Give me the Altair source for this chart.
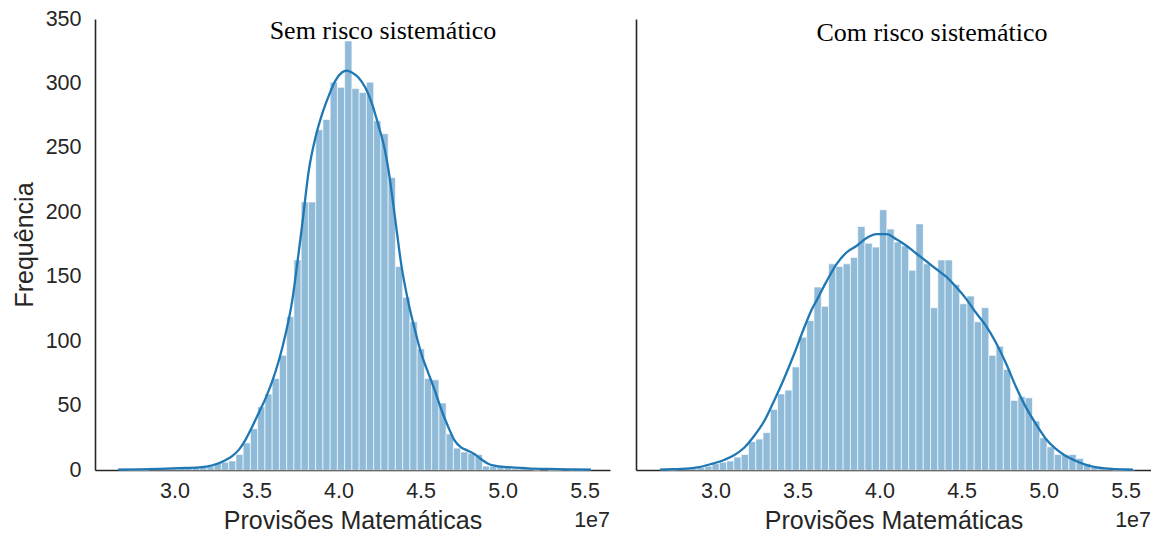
import altair as alt
import pandas as pd

# ---- data (x in units of 1e7) ----
x_ticks = [3.0, 3.5, 4.0, 4.5, 5.0, 5.5]
y_ticks = [0, 50, 100, 150, 200, 250, 300, 350]

panel_titles = ["Sem risco sistemático", "Com risco sistemático"]
x_title = "Provisões Matemáticas"
y_title = "Frequência"
offset_label = "1e7"

left_bin_start = 2.667
left_bin_width = 0.0442
left_counts = [1, 0, 0, 0, 1, 1, 1, 1, 2, 2, 2,
               2, 3, 5, 6, 7, 12, 21, 32, 49, 59, 71, 89, 119,
               163, 208, 208, 264, 272, 301, 297, 333, 296, 293, 301, 271, 261, 227,
               158, 134, 115, 94, 71, 70, 52, 28, 17, 14, 13, 12, 3, 3,
               3, 2, 1, 1, 1, 0, 1, 0, 0, 1, 0, 0, 1]

right_bin_start = 2.668
right_bin_width = 0.0444
right_counts = [1, 0, 1, 1, 1, 2, 3, 5, 6, 7,
                10, 12, 22, 24, 29, 47, 59, 62, 80, 103,
                116, 142, 127, 160, 158, 160, 165, 189, 176, 173,
                202, 187, 177, 174, 155, 191, 160, 126, 163, 163,
                144, 129, 135, 115, 126, 89, 96, 78, 54, 57,
                56, 38, 25, 18, 12, 12, 12, 9, 5, 2,
                1, 1, 0, 0, 1]

left_kde_x = [2.655, 2.788, 2.909, 3.030, 3.152, 3.232, 3.313, 3.353, 3.394, 3.435,
              3.475, 3.515, 3.556, 3.596, 3.636, 3.677, 3.717, 3.738, 3.778, 3.818,
              3.859, 3.899, 3.939, 3.980, 4.020, 4.050, 4.081, 4.121, 4.162, 4.202,
              4.242, 4.283, 4.303, 4.344, 4.384, 4.424, 4.465, 4.505, 4.545, 4.586,
              4.626, 4.667, 4.707, 4.747, 4.788, 4.828, 4.868, 4.909, 4.950, 5.030,
              5.152, 5.273, 5.394, 5.539]
left_kde_y = [0.3, 0.5, 0.9, 1.4, 2.0, 3.7, 7.8, 11, 16, 24,
              34, 44.7, 56, 69, 85, 105.5, 131, 150, 190, 232,
              258, 276, 290, 302, 308.5, 310, 308.5, 304.6, 297, 285,
              268, 248, 234, 196, 158, 131, 109, 90, 76, 62,
              47, 34, 23, 17.5, 15, 12.4, 8.5, 5, 3.3, 2.2,
              1.3, 0.8, 0.5, 0.3]

right_kde_x = [2.661, 2.739, 2.818, 2.891, 2.970, 3.055, 3.115, 3.176, 3.236, 3.297,
               3.358, 3.418, 3.479, 3.539, 3.588, 3.618, 3.679, 3.739, 3.800, 3.861,
               3.921, 3.982, 4.042, 4.103, 4.164, 4.224, 4.285, 4.345, 4.406, 4.467,
               4.527, 4.588, 4.648, 4.709, 4.770, 4.830, 4.891, 4.952, 5.012, 5.073,
               5.133, 5.194, 5.255, 5.315, 5.376, 5.436, 5.497, 5.545]
right_kde_y = [0.3, 0.6, 1.0, 2.0, 4.5, 8, 11.6, 17.5, 26.6, 38,
               54, 71, 90, 110, 125, 132, 147, 160, 169, 174,
               180, 183, 183, 179, 174, 168, 162, 156, 150, 142,
               133, 122, 112, 99, 83, 65, 49, 36, 24.5, 16.5,
               11, 7.2, 4.2, 2.2, 1.2, 0.7, 0.4, 0.3]

# ---- styling ----
W, H = 515, 451
BLUE = "#1f77b4"
DARK = "#262626"
x_domain = [2.515, 5.655]


def panel(counts, start, width, kx, ky, title, title_pos, show_y):
    n = len(counts)
    bars = pd.DataFrame({
        "x0": [start + i * width for i in range(n)],
        "x1": [start + (i + 1) * width for i in range(n)],
        "c": counts,
    })
    kde = pd.DataFrame({"x": kx, "y": ky})

    xscale = alt.Scale(domain=x_domain, nice=False, zero=False)
    yscale = alt.Scale(domain=[0, 350], nice=False)
    xaxis = alt.Axis(values=x_ticks, format=".1f", title=x_title,
                     labelPadding=10, titlePadding=7)
    if show_y:
        yaxis = alt.Axis(values=y_ticks, title=y_title, labelPadding=14, titlePadding=8)
    else:
        yaxis = alt.Axis(values=y_ticks, labels=False, title=None)

    bar = alt.Chart(bars).mark_rect(
        fill=BLUE, fillOpacity=0.5, stroke="white", strokeWidth=0.8, strokeOpacity=0.8
    ).encode(
        x=alt.X("x0:Q", scale=xscale, axis=xaxis),
        x2="x1:Q",
        y=alt.Y("c:Q", scale=yscale, axis=yaxis),
        y2=alt.datum(0),
    )
    line = alt.Chart(kde).mark_line(
        color=BLUE, strokeWidth=2.3, interpolate="monotone"
    ).encode(x="x:Q", y="y:Q")
    txt = alt.Chart(pd.DataFrame({"t": [title]})).mark_text(
        font="Liberation Serif", fontSize=26, color="black"
    ).encode(text="t:N", x=alt.value(title_pos[0]), y=alt.value(title_pos[1]))
    e7 = alt.Chart(pd.DataFrame({"t": [offset_label]})).mark_text(
        font="Liberation Sans", fontSize=21.5, color=DARK, align="right", baseline="middle"
    ).encode(text="t:N", x=alt.value(W), y=alt.value(H + 51))
    return alt.layer(bar, line, txt, e7).properties(width=W, height=H)


left = panel(left_counts, left_bin_start, left_bin_width, left_kde_x, left_kde_y,
             panel_titles[0], (288, 12), True)
right = panel(right_counts, right_bin_start, right_bin_width, right_kde_x, right_kde_y,
              panel_titles[1], (296, 14), False)

chart = alt.hconcat(left, right, spacing=26).properties(
    padding={"left": 4, "top": 0, "right": 0, "bottom": 0}
).configure_view(stroke=None).configure_axis(
    domainColor=DARK, domainWidth=1.6, ticks=False, tickSize=0, grid=False,
    labelFont="Liberation Sans", labelFontSize=21.5, labelColor=DARK,
    titleFont="Liberation Sans", titleFontSize=25, titleFontWeight="normal", titleColor=DARK,
)

chart.save("out.html", embed_options={"renderer": "svg", "actions": False})
